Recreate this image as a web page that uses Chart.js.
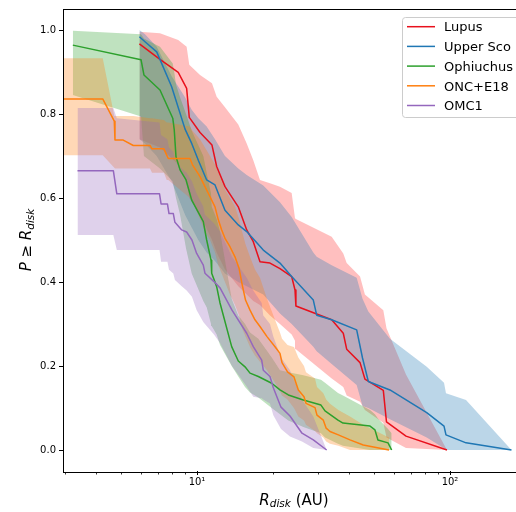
<!DOCTYPE html>
<html>
<head>
<meta charset="utf-8">
<script src="https://cdn.jsdelivr.net/npm/chart.js@4.4.1/dist/chart.umd.min.js"></script>
<style>
  html, body { margin: 0; padding: 0; overflow: hidden; background: #fff; }
  canvas { display: block; }
</style>
</head>
<body>
<canvas id="chart" width="530" height="512"></canvas>
<script>
// ---------------- data: cumulative disk-radius distributions ----------------
const seriesNames = ['Lupus', 'Upper Sco', 'Ophiuchus', 'ONC+E18', 'OMC1'];

// Lupus
const lupusR  = [5.92, 7.14, 8.43, 9.10, 9.32, 10.28, 11.46, 11.96, 12.9, 14.56, 15.72, 16.69, 17.74, 19.43, 21.28, 23.67, 24.4, 24.6, 34.07, 37.86, 39.05, 44.1, 46.1, 54.5, 56.1, 67.0, 97.3];
const lupusP  = [0.967, 0.93, 0.899, 0.861, 0.792, 0.756, 0.726, 0.675, 0.627, 0.579, 0.524, 0.496, 0.448, 0.445, 0.432, 0.413, 0.381, 0.343, 0.31, 0.278, 0.24, 0.208, 0.169, 0.142, 0.067, 0.033, 0.0];
const lupusHi = [0.996, 0.992, 0.976, 0.96, 0.917, 0.893, 0.873, 0.841, 0.816, 0.775, 0.73, 0.69, 0.643, 0.635, 0.627, 0.612, 0.552, 0.55, 0.508, 0.468, 0.445, 0.413, 0.37, 0.333, 0.29, 0.18, 0.0];
const lupusLo = [0.74, 0.72, 0.68, 0.64, 0.60, 0.56, 0.50, 0.47, 0.43, 0.39, 0.37, 0.355, 0.345, 0.32, 0.30, 0.275, 0.26, 0.24, 0.17, 0.15, 0.13, 0.115, 0.095, 0.065, 0.03, 0.005, 0.0];

// Upper Sco
const uscoR  = [5.92, 6.23, 6.93, 7.94, 8.97, 9.53, 10.12, 10.92, 11.78, 12.9, 14.56, 15.72, 18.28, 21.28, 23.67, 28.82, 29.72, 34.07, 42.77, 45.1, 47.55, 57.9, 80.9, 94.7, 96.4, 115.7, 175.0];
const uscoP  = [0.984, 0.972, 0.948, 0.865, 0.764, 0.73, 0.69, 0.643, 0.631, 0.571, 0.536, 0.52, 0.476, 0.445, 0.413, 0.357, 0.321, 0.31, 0.286, 0.219, 0.163, 0.143, 0.089, 0.057, 0.036, 0.017, 0.0];
const uscoHi = [1.0, 0.99, 0.96, 0.89, 0.84, 0.81, 0.79, 0.77, 0.74, 0.70, 0.67, 0.655, 0.63, 0.59, 0.555, 0.47, 0.46, 0.44, 0.41, 0.36, 0.33, 0.265, 0.198, 0.16, 0.135, 0.119, 0.0];
const uscoLo = [0.74, 0.73, 0.70, 0.64, 0.56, 0.53, 0.50, 0.47, 0.45, 0.42, 0.40, 0.39, 0.37, 0.325, 0.30, 0.246, 0.235, 0.205, 0.155, 0.105, 0.10, 0.073, 0.03, 0.004, 0.0, 0.0, 0.0];

// Ophiuchus
const ophR  = [3.23, 6.01, 6.17, 7.14, 8.02, 8.13, 8.26, 8.57, 9.05, 9.53, 10.59, 10.92, 11.36, 11.43, 11.96, 12.33, 13.71, 14.56, 15.48, 16.2, 17.47, 19.74, 21.28, 22.96, 26.32, 30.9, 32.06, 36.08, 37.76, 48.3, 50.5, 51.9, 56.9, 58.8];
const ophP  = [0.964, 0.929, 0.893, 0.857, 0.79, 0.762, 0.698, 0.667, 0.643, 0.595, 0.544, 0.5, 0.452, 0.421, 0.389, 0.35, 0.246, 0.212, 0.198, 0.183, 0.175, 0.159, 0.143, 0.131, 0.119, 0.107, 0.093, 0.071, 0.064, 0.057, 0.048, 0.024, 0.017, 0.0];
const ophHi = [0.998, 0.99, 0.98, 0.96, 0.92, 0.90, 0.87, 0.84, 0.80, 0.76, 0.70, 0.66, 0.61, 0.58, 0.55, 0.52, 0.36, 0.32, 0.30, 0.28, 0.265, 0.22, 0.19, 0.185, 0.178, 0.167, 0.16, 0.136, 0.13, 0.095, 0.085, 0.075, 0.05, 0.04];
const ophLo = [0.845, 0.794, 0.70, 0.67, 0.64, 0.62, 0.60, 0.56, 0.48, 0.42, 0.355, 0.34, 0.30, 0.295, 0.275, 0.25, 0.20, 0.175, 0.15, 0.137, 0.125, 0.10, 0.085, 0.07, 0.055, 0.04, 0.03, 0.015, 0.01, 0.0, 0.0, 0.0, 0.0, 0.0];

// ONC+E18
const oncR  = [2.96, 4.24, 4.71, 4.74, 5.11, 5.6, 6.52, 6.64, 7.4, 7.59, 7.7, 9.38, 9.6, 10.28, 10.75, 11.26, 11.78, 12.14, 12.52, 12.9, 13.5, 14.13, 14.66, 15.07, 15.55, 16.2, 16.95, 17.74, 18.91, 20.34, 21.28, 21.68, 22.79, 24.17, 25.15, 26.48, 26.97, 29.27, 29.8, 31.57, 32.4, 33.55, 36.2, 40.25, 45.4, 57.4];
const oncP  = [0.836, 0.836, 0.783, 0.738, 0.738, 0.725, 0.725, 0.717, 0.717, 0.702, 0.694, 0.694, 0.679, 0.651, 0.627, 0.603, 0.579, 0.548, 0.524, 0.504, 0.484, 0.46, 0.433, 0.395, 0.357, 0.333, 0.31, 0.294, 0.27, 0.246, 0.23, 0.208, 0.186, 0.174, 0.143, 0.127, 0.111, 0.101, 0.083, 0.071, 0.052, 0.044, 0.036, 0.024, 0.012, 0.0];
const oncHi = [0.933, 0.933, 0.795, 0.795, 0.795, 0.795, 0.79, 0.79, 0.786, 0.78, 0.78, 0.77, 0.76, 0.74, 0.72, 0.70, 0.68, 0.66, 0.64, 0.62, 0.60, 0.58, 0.55, 0.52, 0.49, 0.46, 0.43, 0.41, 0.36, 0.31, 0.28, 0.265, 0.25, 0.245, 0.22, 0.2, 0.185, 0.17, 0.15, 0.135, 0.12, 0.11, 0.095, 0.08, 0.06, 0.03];
const oncLo = [0.702, 0.702, 0.67, 0.67, 0.67, 0.67, 0.67, 0.66, 0.66, 0.643, 0.643, 0.60, 0.59, 0.55, 0.52, 0.50, 0.47, 0.44, 0.42, 0.40, 0.37, 0.345, 0.32, 0.29, 0.27, 0.245, 0.225, 0.21, 0.19, 0.16, 0.14, 0.13, 0.12, 0.10, 0.08, 0.07, 0.06, 0.045, 0.04, 0.03, 0.02, 0.015, 0.01, 0.0, 0.0, 0.0];

// OMC1
const omcR  = [3.37, 4.67, 4.82, 7.11, 7.21, 7.64, 7.75, 8.06, 8.18, 8.7, 9.1, 9.55, 9.97, 10.59, 10.75, 11.67, 12.33, 13.75, 15.72, 16.69, 18.02, 18.28, 19.43, 20.03, 21.48, 23.31, 26.0, 28.82, 32.55];
const omcP  = [0.665, 0.665, 0.61, 0.61, 0.586, 0.586, 0.563, 0.563, 0.542, 0.524, 0.519, 0.5, 0.468, 0.44, 0.421, 0.401, 0.386, 0.333, 0.278, 0.246, 0.214, 0.19, 0.175, 0.148, 0.102, 0.081, 0.04, 0.024, 0.0];
const omcHi = [0.814, 0.814, 0.79, 0.78, 0.75, 0.74, 0.72, 0.71, 0.69, 0.67, 0.66, 0.64, 0.61, 0.58, 0.56, 0.54, 0.52, 0.46, 0.41, 0.38, 0.35, 0.32, 0.30, 0.27, 0.22, 0.19, 0.12, 0.08, 0.0];
const omcLo = [0.512, 0.512, 0.476, 0.476, 0.448, 0.448, 0.429, 0.42, 0.405, 0.39, 0.38, 0.365, 0.333, 0.305, 0.30, 0.275, 0.255, 0.2, 0.151, 0.127, 0.123, 0.12, 0.111, 0.083, 0.05, 0.032, 0.02, 0.005, 0.0];

// axis ticks
const xMajorTicks = [10, 100];
const xMinorTicks = [3, 4, 5, 6, 7, 8, 9, 20, 30, 40, 50, 60, 70, 80, 90];
const yTicks = [0.0, 0.2, 0.4, 0.6, 0.8, 1.0];

// ---------------- styling ----------------
const lineColors = ['#e8101c', '#1f77b4', '#2ca02c', '#ff7f0e', '#9467bd'];
const bandColors = ['#ff0000', '#1f77b4', '#2ca02c', '#ff7f0e', '#9467bd'];
const bandAlphas = [0.25, 0.3, 0.3, 0.3, 0.3];
const FONT = '"DejaVu Sans", "Liberation Sans", sans-serif';
Chart.defaults.font.family = FONT;

function rgba(hex, a) {
  const n = parseInt(hex.slice(1), 16);
  return `rgba(${(n >> 16) & 255},${(n >> 8) & 255},${n & 255},${a})`;
}
const pts = (xs, ys) => xs.map((x, i) => ({ x: x, y: ys[i] }));

const series = [
  { R: lupusR, P: lupusP, lo: lupusLo, hi: lupusHi },
  { R: uscoR,  P: uscoP,  lo: uscoLo,  hi: uscoHi  },
  { R: ophR,   P: ophP,   lo: ophLo,   hi: ophHi   },
  { R: oncR,   P: oncP,   lo: oncLo,   hi: oncHi   },
  { R: omcR,   P: omcP,   lo: omcLo,   hi: omcHi   }
].map((s, i) => Object.assign(s, {
  name: seriesNames[i], color: lineColors[i], band: rgba(bandColors[i], bandAlphas[i])
}));

// Chart.js paints datasets from last to first, so the list is reversed:
// Lupus ends up painted first and OMC1 on top.
const datasets = [];
series.slice().reverse().forEach(s => {
  datasets.push({
    label: s.name + ' lower', data: pts(s.R, s.lo),
    borderWidth: 0, borderColor: 'rgba(0,0,0,0)', pointRadius: 0, fill: false
  });
  datasets.push({
    label: s.name + ' upper', data: pts(s.R, s.hi),
    borderWidth: 0, borderColor: 'rgba(0,0,0,0)', pointRadius: 0,
    fill: '-1', backgroundColor: s.band
  });
});
series.slice().reverse().forEach(s => {
  datasets.push({
    label: s.name, data: pts(s.R, s.P),
    borderColor: s.color, borderWidth: 1.5, pointRadius: 0, fill: false,
    borderJoinStyle: 'round', borderCapStyle: 'butt'
  });
});

const supDigits = { '0': '\u2070', '1': '\u00b9', '2': '\u00b2', '3': '\u00b3' };

// draws a run of text pieces (different fonts / vertical offsets) centred on x
function drawRuns(ctx, runs, cx, y) {
  let total = 0;
  runs.forEach(r => { ctx.font = r.font; r.w = ctx.measureText(r.t).width; total += r.w; });
  let x = cx - total / 2;
  ctx.textAlign = 'left';
  ctx.textBaseline = 'alphabetic';
  runs.forEach(r => { ctx.font = r.font; ctx.fillText(r.t, x, y + (r.dy || 0)); x += r.w; });
}

const decorations = {
  id: 'decorations',
  afterDraw(chart) {
    const ctx = chart.ctx;
    const a = chart.chartArea;
    const xs = chart.scales.x;
    ctx.save();

    // frame
    ctx.strokeStyle = '#000';
    ctx.lineWidth = 1;
    ctx.strokeRect(a.left + 0.5, a.top + 0.5, a.right - a.left, a.bottom - a.top + 1);

    // minor ticks on the log axis
    ctx.beginPath();
    xMinorTicks.forEach(v => {
      const px = Math.round(xs.getPixelForValue(v)) + 0.5;
      ctx.moveTo(px, a.bottom + 1);
      ctx.lineTo(px, a.bottom + 3.5);
    });
    ctx.lineWidth = 0.8;
    ctx.stroke();

    ctx.fillStyle = '#000';
    // x axis title
    drawRuns(ctx, [
      { t: 'R', font: `italic 15px ${FONT}` },
      { t: 'disk', font: `italic 10.5px ${FONT}`, dy: 2.5 },
      { t: ' (AU)', font: `15px ${FONT}` }
    ], (a.left + a.right) / 2, 504.5);

    // y axis title
    ctx.save();
    ctx.translate(31, (a.top + a.bottom) / 2);
    ctx.rotate(-Math.PI / 2);
    drawRuns(ctx, [
      { t: 'P', font: `italic 15px ${FONT}` },
      { t: ' \u2265 ', font: `15px ${FONT}` },
      { t: 'R', font: `italic 15px ${FONT}` },
      { t: 'disk', font: `italic 10.5px ${FONT}`, dy: 2.5 }
    ], 0, 0);
    ctx.restore();

    // legend
    const lx = 402.5, ly = 17.5, lw = 140, lh = 100, rad = 3;
    ctx.beginPath();
    ctx.moveTo(lx + rad, ly);
    ctx.arcTo(lx + lw, ly, lx + lw, ly + lh, rad);
    ctx.arcTo(lx + lw, ly + lh, lx, ly + lh, rad);
    ctx.arcTo(lx, ly + lh, lx, ly, rad);
    ctx.arcTo(lx, ly, lx + lw, ly, rad);
    ctx.closePath();
    ctx.fillStyle = 'rgba(255,255,255,0.8)';
    ctx.fill();
    ctx.strokeStyle = '#cccccc';
    ctx.lineWidth = 1;
    ctx.stroke();

    series.forEach((s, i) => {
      const y = 26.7 + i * 19.7;
      ctx.beginPath();
      ctx.moveTo(407, y);
      ctx.lineTo(435, y);
      ctx.strokeStyle = s.color;
      ctx.lineWidth = 1.5;
      ctx.stroke();
      ctx.fillStyle = '#000';
      ctx.font = `13px ${FONT}`;
      ctx.textAlign = 'left';
      ctx.textBaseline = 'alphabetic';
      ctx.fillText(s.name, 444, y + 4.7);
    });
    ctx.restore();
  }
};

new Chart(document.getElementById('chart'), {
  type: 'line',
  data: { datasets: datasets },
  options: {
    responsive: false,
    animation: false,
    devicePixelRatio: 1,
    events: [],
    layout: { padding: { top: 9, right: 5, left: 0, bottom: 0 } },
    plugins: {
      legend: { display: false },
      tooltip: { enabled: false },
      filler: { drawTime: 'beforeDatasetsDraw', propagate: false }
    },
    scales: {
      x: {
        type: 'logarithmic',
        min: 2.9535,
        max: 197.9,
        afterBuildTicks: s => { s.ticks = xMajorTicks.map(v => ({ value: v })); },
        afterFit: s => { s.height = 41; },
        ticks: {
          autoSkip: false, maxRotation: 0, padding: 1, color: '#000',
          font: { size: 10, family: FONT },
          callback: v => '10' + String(Math.round(Math.log10(v))).split('').map(d => supDigits[d]).join('')
        },
        grid: { drawOnChartArea: false, drawTicks: true, tickLength: 4, tickColor: '#000', tickWidth: 1 },
        border: { display: false }
      },
      y: {
        type: 'linear',
        min: -0.05,
        max: 1.05,
        afterBuildTicks: s => { s.ticks = yTicks.map(v => ({ value: v })); },
        afterFit: s => { s.width = 63; },
        ticks: {
          padding: 3, color: '#000',
          font: { size: 10, family: FONT },
          callback: v => v.toFixed(1)
        },
        grid: { drawOnChartArea: false, drawTicks: true, tickLength: 4, tickColor: '#000', tickWidth: 1 },
        border: { display: false }
      }
    }
  },
  plugins: [decorations]
});
</script>
</body>
</html>
